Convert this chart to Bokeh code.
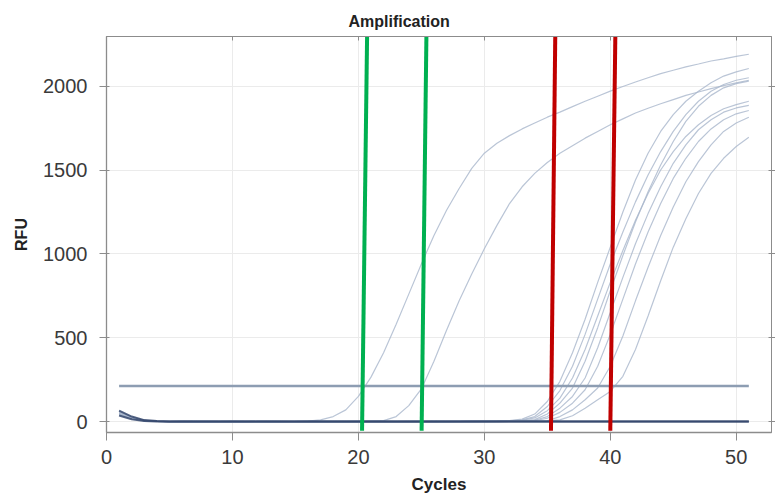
from bokeh.plotting import figure
from bokeh.models import Range1d, LinearAxis, ColumnDataSource
from bokeh.embed import file_html
from bokeh.resources import INLINE

# ---------------- data ----------------
cycles = list(range(1, 52))

curve_a = [55, 24, 7, 2, 0, 1, 0, 0, 1, 0,
           0, 1, 0, 0, 1, 3, 10, 30, 70, 150,
           265, 410, 580, 760, 940, 1110, 1260, 1390, 1510, 1600,
           1660, 1705, 1745, 1780, 1815, 1845, 1878, 1910, 1940, 1970,
           1998, 2025, 2050, 2075, 2095, 2115, 2132, 2150, 2163, 2177, 2190]
curve_b = [48, 20, 5, 1, 0, 0, 1, 0, 0, 1,
           0, 0, 1, 0, 0, 0, 1, 0, 0, 1,
           2, 6, 30, 95, 195, 360, 545, 720, 880, 1030,
           1170, 1300, 1400, 1480, 1545, 1600, 1645, 1690, 1730, 1770,
           1805, 1840, 1868, 1895, 1920, 1945, 1965, 1985, 2003, 2020, 2035]
late_1 = [62, 27, 8, 2, 0, 1, 0, 0, 0, 1,
          0, 0, 1, 0, 0, 1, 0, 0, 1, 0,
          0, 1, 0, 0, 1, 0, 1, 1, 2, 3,
          4, 6, 15, 45, 120, 240, 410, 610, 830, 1040,
          1250, 1440, 1600, 1730, 1830, 1910, 1970, 2020, 2060, 2085, 2105]
late_2 = [58, 25, 7, 2, 1, 0, 0, 1, 0, 0,
          1, 0, 0, 0, 1, 0, 0, 1, 0, 0,
          1, 0, 0, 1, 0, 1, 0, 1, 1, 2,
          3, 5, 10, 30, 90, 185, 330, 520, 730, 940,
          1130, 1310, 1470, 1610, 1730, 1830, 1910, 1970, 2010, 2035, 2050]
late_3 = [50, 22, 6, 1, 0, 0, 1, 0, 0, 0,
          0, 1, 0, 0, 0, 1, 0, 0, 0, 1,
          0, 0, 1, 0, 0, 1, 0, 0, 1, 1,
          2, 4, 8, 22, 65, 140, 260, 430, 630, 830,
          1020, 1200, 1360, 1500, 1610, 1700, 1770, 1825, 1865, 1890, 1910]
late_4 = [45, 19, 5, 1, 0, 1, 0, 0, 0, 1,
          0, 0, 0, 1, 0, 0, 1, 0, 0, 0,
          1, 0, 0, 0, 1, 0, 0, 1, 1, 1,
          2, 3, 6, 12, 45, 110, 200, 360, 560, 780,
          990, 1190, 1370, 1530, 1670, 1790, 1880, 1945, 1990, 2015, 2030]
late_5 = [40, 17, 4, 1, 0, 0, 0, 1, 0, 0,
          0, 1, 0, 0, 0, 0, 1, 0, 0, 1,
          0, 0, 0, 1, 0, 0, 1, 0, 0, 1,
          1, 2, 4, 8, 30, 80, 150, 260, 440, 650,
          860, 1060, 1240, 1400, 1540, 1650, 1740, 1800, 1845, 1870, 1885]
late_6 = [55, 23, 6, 2, 0, 0, 1, 0, 0, 1,
          0, 0, 1, 0, 0, 0, 0, 1, 0, 0,
          1, 0, 0, 0, 0, 1, 0, 0, 1, 0,
          1, 1, 2, 5, 20, 55, 110, 190, 330, 520,
          730, 940, 1130, 1300, 1450, 1570, 1670, 1745, 1800, 1835, 1855]
late_7 = [48, 21, 6, 1, 0, 1, 0, 0, 1, 0,
          0, 0, 0, 1, 0, 0, 0, 0, 1, 0,
          0, 1, 0, 0, 0, 0, 1, 0, 0, 1,
          0, 1, 2, 3, 5, 30, 70, 130, 200, 330,
          510, 720, 920, 1110, 1280, 1430, 1550, 1650, 1730, 1780, 1815]
late_8 = [52, 22, 6, 2, 0, 0, 0, 1, 0, 0,
          1, 0, 0, 0, 0, 1, 0, 0, 0, 0,
          1, 0, 0, 0, 1, 0, 0, 0, 1, 0,
          0, 1, 1, 2, 4, 10, 35, 80, 130, 180,
          270, 430, 630, 840, 1040, 1210, 1360, 1480, 1570, 1640, 1695]
neg_1 = [66, 30, 9, 3, 1, 0, 0, 0, 1, 0,
         0, 0, 0, 1, 0, 0, 0, 0, 0, 1,
         0, 0, 0, 0, 1, 0, 0, 0, 0, 0,
         1, 0, 0, 0, 0, 0, 1, 0, 0, 0,
         0, 0, 1, 0, 0, 0, 0, 0, 1, 0, 0]
neg_2 = [36, 14, 4, 1, 0, 0, 1, 0, 0, 0,
         0, 1, 0, 0, 0, 0, 0, 1, 0, 0,
         0, 0, 0, 1, 0, 0, 0, 0, 0, 1,
         0, 0, 0, 0, 1, 0, 0, 0, 0, 0,
         1, 0, 0, 0, 0, 1, 0, 0, 0, 0, 1]

threshold = 212

# hand-drawn marker lines (cycle at top and at bottom of the plot)
green_top_x = [20.69, 25.40]
green_bottom_x = [20.29, 25.02]
red_top_x = [35.63, 40.40]
red_bottom_x = [35.29, 40.00]
marker_top_y = 2296
marker_bottom_y = -55

x_ticks = [0, 10, 20, 30, 40, 50]
y_ticks = [0, 500, 1000, 1500, 2000]

# ---------------- figure ----------------
FONT = "Liberation Sans"
AXIS_COL = "#8c8c8c"

p = figure(width=775, height=496, output_backend="svg", toolbar_location=None,
           x_range=Range1d(0, 52.8), y_range=Range1d(-65, 2296),
           min_border_left=106, min_border_right=4, min_border_top=36,
           min_border_bottom=63, background_fill_color="white",
           border_fill_color="white")

p.title.text = "Amplification"
p.title.text_font = FONT
p.title.text_font_size = "16px"
p.title.text_font_style = "bold"
p.title.text_color = "#222222"
p.title.align = "left"
p.title.offset = 242
p.title.standoff = 14

p.outline_line_color = AXIS_COL
p.xgrid.grid_line_color = "#ebebeb"
p.ygrid.grid_line_color = "#ebebeb"
p.xgrid.ticker = x_ticks
p.ygrid.ticker = y_ticks

for ax in (p.xaxis[0], p.yaxis[0]):
    ax.axis_line_color = AXIS_COL
    ax.axis_line_width = 1.3
    ax.major_tick_line_color = AXIS_COL
    ax.minor_tick_line_color = AXIS_COL
    ax.major_label_text_font = FONT
    ax.major_label_text_font_size = "20px"
    ax.major_label_text_color = "#3a3a3a"
    ax.axis_label_text_font = FONT
    ax.axis_label_text_font_style = "bold"
    ax.axis_label_text_color = "#222222"

p.xaxis.ticker = x_ticks
p.xaxis[0].ticker.num_minor_ticks = 5
p.xaxis.axis_label = "Cycles"
p.xaxis.axis_label_text_font_size = "17px"
p.xaxis.major_tick_out = 8
p.xaxis.major_tick_in = 0
p.xaxis.minor_tick_out = 4
p.xaxis.minor_tick_in = 3
p.xaxis.major_label_standoff = 9
p.xaxis.axis_label_standoff = 8

p.yaxis.ticker = y_ticks
p.yaxis[0].ticker.num_minor_ticks = 5
p.yaxis.axis_label = "RFU"
p.yaxis.axis_label_text_font_size = "16px"
p.yaxis.major_tick_out = 7
p.yaxis.major_tick_in = 3
p.yaxis.minor_tick_out = 3
p.yaxis.minor_tick_in = 3
p.yaxis.major_label_standoff = 12
p.yaxis.axis_label_standoff = 10

top_axis = LinearAxis(ticker=x_ticks, major_label_text_font_size="1px",
                      major_label_text_color=None,
                      major_tick_in=4, major_tick_out=0, minor_tick_in=3,
                      minor_tick_out=0, major_label_standoff=0,
                      axis_line_color=AXIS_COL, major_tick_line_color=AXIS_COL,
                      minor_tick_line_color=AXIS_COL)
top_axis.ticker.num_minor_ticks = 5
p.add_layout(top_axis, "above")
right_axis = LinearAxis(ticker=y_ticks, major_label_text_font_size="1px",
                        major_label_text_color=None,
                        major_tick_in=3, major_tick_out=4, minor_tick_in=2,
                        minor_tick_out=2, major_label_standoff=0,
                        axis_line_color=AXIS_COL, major_tick_line_color=AXIS_COL,
                        minor_tick_line_color=AXIS_COL)
right_axis.ticker.num_minor_ticks = 5
p.add_layout(right_axis, "right")

# amplification curves
curves = [curve_a, curve_b, late_1, late_2, late_3, late_4, late_5, late_6, late_7, late_8]
src = ColumnDataSource(dict(xs=[cycles] * len(curves), ys=curves))
p.multi_line(xs="xs", ys="ys", source=src, line_color="#a9b7cc", line_width=1.2,
             line_alpha=0.8)

# negative controls (flat, dark)
neg_src = ColumnDataSource(dict(xs=[cycles, cycles], ys=[neg_1, neg_2]))
p.multi_line(xs="xs", ys="ys", source=neg_src, line_color="#34466c",
             line_width=2.0, line_alpha=0.85)

# threshold
p.segment(x0=cycles[0], x1=cycles[-1], y0=threshold, y1=threshold,
          line_color="#8d9db2", line_width=2.6)

# hand-drawn marker lines
p.segment(x0=green_top_x, y0=[marker_top_y] * 2, x1=green_bottom_x,
          y1=[marker_bottom_y] * 2, line_color="#00b050", line_width=4)
p.segment(x0=red_top_x, y0=[marker_top_y] * 2, x1=red_bottom_x,
          y1=[marker_bottom_y] * 2, line_color="#c00000", line_width=4)

open("out.html", "w").write(file_html(p, INLINE))
